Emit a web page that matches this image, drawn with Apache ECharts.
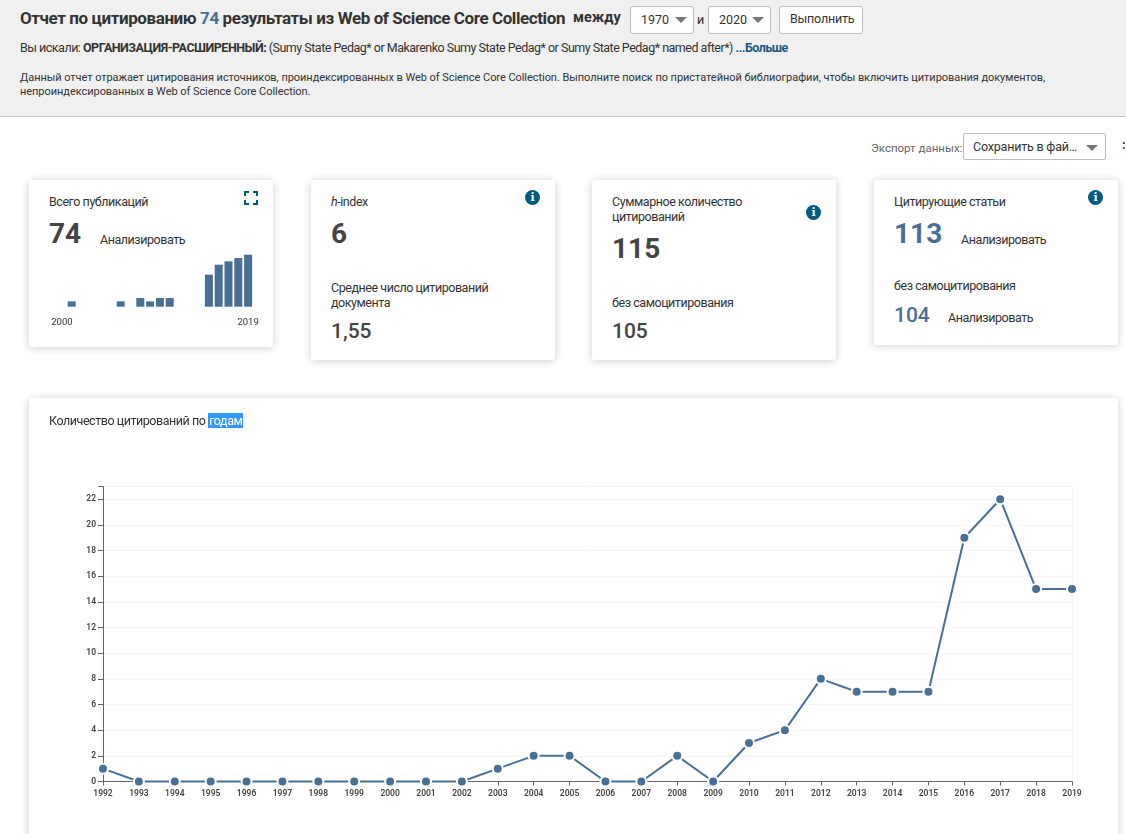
<!DOCTYPE html>
<html lang="ru">
<head>
<meta charset="utf-8">
<title>Отчет по цитированию</title>
<script src="https://cdn.jsdelivr.net/npm/echarts@6/dist/echarts.min.js"></script>
<style>
  html, body { margin: 0; padding: 0; width: 1126px; height: 834px; overflow: hidden; background: #fff; }
  body { position: relative; font-family: Roboto, "Noto Sans", sans-serif; color: #333; }
  .t { position: absolute; white-space: nowrap; line-height: 1; }
  a, .link { color: #1c5a84; }
  .head { position: absolute; left: 0; top: 0; width: 1126px; height: 116px; background: #f0f0f0; border-bottom: 1px solid #c8c8c8; }
  .card { position: absolute; background: #fff; border-radius: 2px; box-shadow: 0 1px 8px rgba(0,0,0,.2); }
  .box { position: absolute; box-sizing: border-box; background: #fff; border: 1px solid #bbb; border-radius: 3px; }
  .arrow { position: absolute; width: 0; height: 0; border-left: 6px solid transparent; border-right: 6px solid transparent; border-top: 6px solid #777; }
  .info { position: absolute; width: 15px; height: 15px; border-radius: 50%; background: #005b81; color: #fff; font: bold 11px/15px "DejaVu Serif", serif; text-align: center; }
  .big { font-size: 28px; font-weight: 700; color: #444; margin-top: 1px; }
  .mid { font-size: 21px; font-weight: 500; color: #444; margin-top: 1px; }
  .lbl { font-size: 12.5px; letter-spacing: -.45px; color: #333; margin-top: 1px; }
  .blue { color: #4a6f96; }
</style>
</head>
<body>
<div class="head"></div>
<div class="t" style="left:20px;top:10px;font-size:17px;font-weight:700;letter-spacing:-.41px">Отчет по цитированию <span class="blue">74</span> результаты из Web of Science Core Collection</div>
<div class="t" style="left:573px;top:11px;font-size:14.5px;font-weight:700">между</div>
<div class="box" style="left:630px;top:6px;width:64px;height:28px"></div>
<div class="t" style="left:641px;top:14px;font-size:12.5px">1970</div>
<div class="arrow" style="left:675px;top:17px"></div>
<div class="t" style="left:697px;top:14px;font-size:12.5px">и</div>
<div class="box" style="left:708px;top:6px;width:63px;height:28px"></div>
<div class="t" style="left:719px;top:14px;font-size:12.5px">2020</div>
<div class="arrow" style="left:752px;top:17px"></div>
<div class="box" style="left:779px;top:6px;width:84px;height:28px"></div>
<div class="t" style="left:790px;top:13px;font-size:12.5px;letter-spacing:-.2px">Выполнить</div>
<div class="t" style="left:20px;top:42px;font-size:12.5px;letter-spacing:-.5px">Вы искали: <b>ОРГАНИЗАЦИЯ-РАСШИРЕННЫЙ:</b> (Sumy State Pedag* or Makarenko Sumy State Pedag* or Sumy State Pedag* named after*) <b class="link">...Больше</b></div>
<div class="t" style="left:20px;top:72px;font-size:11px;letter-spacing:-.05px">Данный отчет отражает цитирования источников, проиндексированных в Web of Science Core Collection. Выполните поиск по пристатейной библиографии, чтобы включить цитирования документов,</div>
<div class="t" style="left:20px;top:86px;font-size:11px;letter-spacing:-.05px">непроиндексированных в Web of Science Core Collection.</div>

<div class="t" style="left:871px;top:143px;font-size:11.5px;color:#666">Экспорт данных:</div>
<div class="box" style="left:963px;top:133px;width:143px;height:27px;border-radius:2px"></div>
<div class="t" style="left:973px;top:141px;font-size:12.5px;letter-spacing:-.2px">Сохранить в фай…</div>
<div class="arrow" style="left:1086px;top:145px"></div>
<div class="t" style="left:1122px;top:138px;font-size:13px;font-weight:700">:</div>

<!-- карточки -->
<div class="card" style="left:29px;top:180px;width:244px;height:167px"></div>
<div class="card" style="left:311px;top:180px;width:244px;height:180px"></div>
<div class="card" style="left:592px;top:180px;width:244px;height:180px"></div>
<div class="card" style="left:874px;top:180px;width:244px;height:165px"></div>
<div class="card" style="left:29px;top:398px;width:1089px;height:460px"></div>

<div class="t lbl" style="left:49px;top:195px">Всего публикаций</div>
<svg style="position:absolute;left:244px;top:191px" width="14" height="14" fill="none" stroke="#005b81" stroke-width="2"><path d="M1 5V1H5M9 1H13V5M13 9V13H9M5 13H1V9"/></svg>
<div class="t big" style="left:49px;top:219px">74</div>
<div class="t lbl link" style="left:100px;top:233px">Анализировать</div>
<div id="mini" style="position:absolute;left:29px;top:240px;width:244px;height:95px"></div>

<div class="t lbl" style="left:331px;top:195px"><i>h</i>-index</div>
<div class="info" style="left:525px;top:190px">i</div>
<div class="t big" style="left:331px;top:219px">6</div>
<div class="t lbl" style="left:331px;top:281px">Среднее число цитирований</div>
<div class="t lbl" style="left:331px;top:296px">документа</div>
<div class="t mid" style="left:331px;top:320px">1,55</div>

<div class="t lbl" style="left:612px;top:195px">Суммарное количество</div>
<div class="t lbl" style="left:612px;top:210px">цитирований</div>
<div class="info" style="left:806px;top:205px">i</div>
<div class="t big" style="left:612px;top:234px">115</div>
<div class="t lbl" style="left:612px;top:296px">без самоцитирования</div>
<div class="t mid" style="left:612px;top:320px">105</div>

<div class="t lbl" style="left:894px;top:195px">Цитирующие статьи</div>
<div class="info" style="left:1088px;top:190px">i</div>
<div class="t big blue" style="left:894px;top:219px">113</div>
<div class="t lbl link" style="left:961px;top:233px">Анализировать</div>
<div class="t lbl" style="left:894px;top:279px">без самоцитирования</div>
<div class="t mid blue" style="left:894px;top:304px">104</div>
<div class="t lbl link" style="left:948px;top:311px">Анализировать</div>

<div id="main" style="position:absolute;left:29px;top:398px;width:1089px;height:436px"></div>
<div class="t lbl" style="left:49px;top:414px">Количество цитирований по <span style="background:#3297fd;color:#fff;padding:0 1px">годам</span></div>

<script>
// цитирования по годам
var citeYears = ['1992','1993','1994','1995','1996','1997','1998','1999','2000','2001','2002','2003','2004','2005','2006','2007','2008','2009','2010','2011','2012','2013','2014','2015','2016','2017','2018','2019'];
var citeValues = [1,0,0,0,0,0,0,0,0,0,0,1,2,2,0,0,2,0,3,4,8,7,7,7,19,22,15,15];

// публикации по годам (маленький график)
var pubYears = ['2000','2001','2002','2003','2004','2005','2006','2007','2008','2009','2010','2011','2012','2013','2014','2015','2016','2017','2018','2019'];
var pubValues = [null,1,null,null,null,null,1,null,2,1,2,2,null,null,null,9,12,13,14,15];

var mainColor = '#4a6f96';
var axisText = { color: '#444', fontSize: 8.5, fontWeight: 600, fontFamily: 'Roboto' };
var miniFloor = -0.6;

var mainChart = echarts.init(document.getElementById('main'));
mainChart.setOption({
  animation: false,
  grid: { left: 74, top: 88.4, width: 969, height: 295.1 },
  xAxis: {
    type: 'category',
    data: citeYears,
    boundaryGap: false,
    axisLine: { lineStyle: { color: '#666', width: 1 } },
    axisTick: { length: 4, lineStyle: { color: '#666' } },
    axisLabel: Object.assign({ interval: 0, margin: 8 }, axisText),
    splitLine: { show: false }
  },
  yAxis: [{
    type: 'value',
    min: 0,
    max: 23,
    interval: 2,
    axisLine: { show: true, lineStyle: { color: '#666', width: 1 } },
    axisTick: { show: true, length: 5, lineStyle: { color: '#666' } },
    axisLabel: Object.assign({
      margin: 7,
      padding: [2, 0, 0, 0],
      formatter: function (v) { return v === 23 ? '' : v; }
    }, axisText),
    splitLine: { show: true, lineStyle: { color: '#f5f5f5', width: 1 } }
  }, {
    // светлая рамка справа
    type: 'value',
    position: 'right',
    min: 0,
    max: 23,
    interval: 23,
    axisLine: { show: true, lineStyle: { color: '#f5f5f5' } },
    axisTick: { show: false },
    axisLabel: { show: false },
    splitLine: { show: false }
  }],
  series: [{
    type: 'line',
    data: citeValues,
    clip: false,
    symbol: 'circle',
    symbolSize: 10,
    showAllSymbol: true,
    lineStyle: { color: mainColor, width: 2 },
    itemStyle: { color: mainColor, borderColor: '#fff', borderWidth: 2 }
  }]
});

var miniChart = echarts.init(document.getElementById('mini'));
miniChart.setOption({
  animation: false,
  grid: { left: 28, top: 14.7, width: 196, height: 52 },
  xAxis: {
    type: 'category',
    data: pubYears,
    axisLine: { show: false },
    axisTick: { show: false },
    axisLabel: {
      interval: function (i) { return i === 0 || i === 19; },
      color: '#333',
      fontSize: 9.5,
      fontFamily: 'Roboto',
      margin: 11
    }
  },
  yAxis: { type: 'value', min: miniFloor, max: 15, show: false },
  series: [{
    // столбики от низа оси, чтобы у единицы была заметная высота
    type: 'custom',
    data: pubValues.map(function (v, i) { return [i, v]; }),
    encode: { x: 0, y: 1 },
    renderItem: function (params, api) {
      if (isNaN(api.value(1))) return;
      var top = api.coord([api.value(0), api.value(1)]);
      var base = api.coord([api.value(0), miniFloor]);
      return {
        type: 'rect',
        shape: { x: top[0] - 4, y: top[1], width: 8, height: base[1] - top[1] },
        style: { fill: mainColor }
      };
    }
  }]
});
</script>
</body>
</html>
